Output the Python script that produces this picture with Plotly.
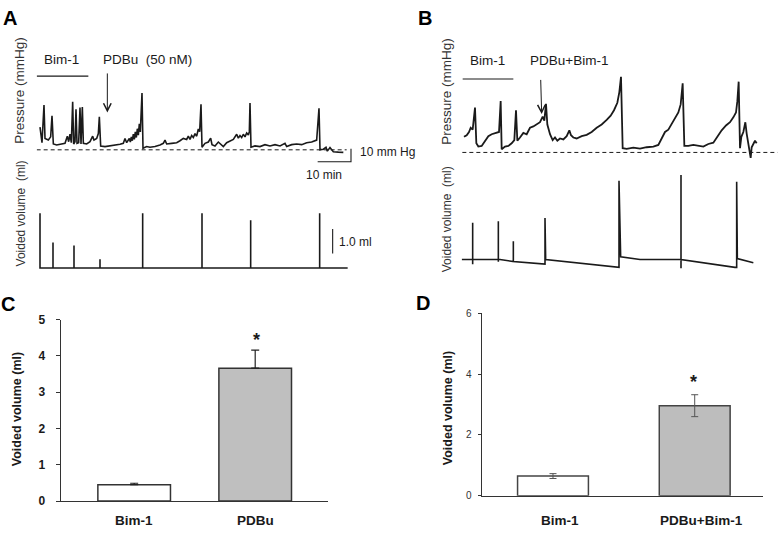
import plotly.graph_objects as go

W, H = 778, 535
FONT = "Liberation Sans, Arial, Helvetica, sans-serif"
INK = "#1a1a1a"

# ---------------- DATA ----------------
# Panel A: bladder pressure trace (time in min, pressure in mmHg above baseline)
pA_t = [0, 0.3, 0.6, 1.2, 1.5, 2.5, 3.2, 3.6, 4.0, 5.0, 6.5, 7.5, 8.2, 8.6, 9.0, 9.4,
        9.8, 10.1, 10.5, 10.8, 11.1, 11.6, 12.0, 12.3, 12.7, 13.0, 14.0, 15.0, 15.8, 16.2,
        17.0, 17.5, 17.8, 18.2, 19.5, 21.0, 22.5, 24.0, 25.0, 25.5, 26.0, 26.5, 26.8, 27.1,
        27.4, 27.7, 28.0, 28.3, 28.6, 28.9, 29.2, 29.5, 29.8, 30.1, 30.3, 30.6, 30.9, 32.0,
        33.0, 34.5, 36.0, 37.0, 37.5, 38.0, 39.5, 41.0, 42.0, 43.0, 44.0, 44.5, 45.0, 45.5,
        46.0, 46.5, 47.0, 47.5, 47.9, 48.3, 48.6, 49.5, 50.5, 51.2, 51.6, 52.5, 53.5, 54.2,
        55.0, 56.0, 57.0, 58.0, 59.0, 59.5, 60.0, 60.5, 61.0, 61.5, 62.0, 62.5, 62.8, 63.0,
        63.3, 64.5, 66.0, 67.5, 69.0, 70.5, 72.0, 73.5, 74.0, 75.5, 77.0, 78.5, 80.0, 81.5,
        83.0, 83.7, 84.0, 85.0, 85.8, 86.2, 87.0, 88.0, 89.5, 91.0]
pA_p = [17.5, 10, 5.5, 34.5, 8.75, 7.5, 10, 26.25, 4.5, 3.75, 4.25, 5, 10.5, 6.25, 12, 5.5,
        37, 4.5, 6.25, 31.25, 5, 5.5, 32.5, 4.5, 33, 5, 4.5, 6.25, 10.5, 7.5,
        8.75, 12.5, 25.5, 3, 2.5, 3, 3.75, 4.25, 5, 8.75, 5.5, 7.5, 8.75, 6,
        10, 7, 12, 8, 13.75, 9.5, 16.25, 11.25, 20, 13.75, 23.75, 43.75, 1.25, 2.5,
        2, 2.5, 3.75, 5, 7.5, 4.5, 5, 5.5, 7, 8.75, 8, 10.5, 8, 11,
        9.5, 12.5, 10.5, 16, 14, 35, 2, 5, 6, 9, 4, 3, 6, 4,
        2.5, 5.5, 7, 8, 12, 9, 11, 9.5, 12, 10, 13, 11.5, 14, 36,
        2, 3, 2.5, 4, 3, 4, 3, 5, 2.5, 4, 4.5, 4, 5.5, 6,
        7.5, 32, 0, 0.5, 2, -1, 1.8, -1.5, -1.8, -2]

# Panel A: voided volume events (time in min, volume in ml)
vA_t = [0, 3.9, 10.2, 18.0, 30.8, 48.6, 63.2, 83.9]
vA_v = [2.25, 1.05, 0.92, 0.36, 2.25, 2.25, 1.96, 2.25]
vA_end = 92.3

# Panel B: bladder pressure trace (time in min, pressure in mmHg)
pB_t = [0.2, 1.0, 1.7, 2.2, 2.8, 3.5, 3.9, 4.5, 5.5, 6.5, 7.5, 8.5, 9.5, 10.7, 11.2, 11.5,
        12.5, 13.5, 14.5, 15.3, 15.8, 16.2, 17.0, 18.0, 19.0, 20.0, 21.0, 22.0, 23.0, 23.8,
        24.3, 24.8, 25.2, 26.0, 26.8, 27.5, 28.2, 29.0, 30.0, 31.0, 31.8, 32.3, 33.0, 34.0,
        35.5, 37.0, 38.5, 40.0, 41.5, 43.0, 44.2, 45.2, 46.2, 46.8, 47.3, 47.8, 49.0, 51.0,
        53.0, 55.0, 57.0, 58.5, 59.5, 60.5, 61.5, 62.5, 63.5, 64.5, 65.2, 65.8, 66.3, 67.5,
        69.0, 70.5, 72.0, 73.5, 75.0, 76.2, 77.5, 78.8, 80.0, 81.0, 81.8, 82.2, 82.6, 83.0,
        83.4, 84.0, 84.6, 85.0, 85.5, 85.9, 86.2, 86.5, 87.0, 87.5, 88.0]
pB_p = [12, 13.25, 15.75, 19, 17.5, 34.5, 7, 4.5, 5, 9, 12.5, 14, 15, 15.75, 39.5, 2.5,
        4.5, 5, 7, 9.5, 32.5, 9, 11.5, 15, 14, 19, 20, 21.5, 23.25, 27.5,
        24.5, 37.5, 21.5, 14, 9.5, 11.5, 9, 10.75, 10, 12.5, 17, 13.25, 11.5, 10.75,
        12.5, 13.5, 15.75, 19, 21.5, 25, 28.25, 32.5, 38.25, 46.5, 58.25, 3.25, 2.75, 3.75,
        3, 4, 4.5, 5.75, 10.75, 15.75, 17.5, 22, 25.75, 30.75, 37, 53.25, 5, 5,
        5.75, 5, 4.5, 6.5, 7.5, 12, 17, 20.75, 23.25, 27, 30.75, 39.5, 54.5, 3.25,
        12, 15.75, 23.25, 14.5, 7, 0.75, -4.25, 4, 7, 9, 7]

# Panel B: voided volume record (time in min, ml), drifting baseline with void spikes
vB_t = [-0.5, 2.8, 2.8, 2.8, 2.8, 10.5, 10.5, 10.5, 10.5, 11.0, 15.0, 15.0, 15.0,
        24.5, 24.5, 24.7, 46.7, 46.7, 47.2, 53.0, 65.3, 65.3, 65.3, 65.3, 81.5, 82.0,
        82.0, 82.2, 87.0]
vB_v = [0, 0, -0.19, 1.51, 0, 0, -0.09, 1.57, 0, 0, -0.08, 0.75, -0.08,
        -0.19, 1.71, 0, -0.32, 3.24, 0.11, 0, 0, -0.36, 3.47, 0, -0.32, -0.32,
        3.2, 0.04, -0.13]

# Panel C and D: mean voided volume (ml) +/- SEM
c_cats = ["Bim-1", "PDBu"]
c_mean = [0.45, 3.66]
c_err = [0.04, 0.50]
d_cats = ["Bim-1", "PDBu+Bim-1"]
d_mean = [0.65, 2.96]
d_err = [0.08, 0.36]


# ---------------- helpers ----------------
def xp(px):
    return px / W


def yp(py):
    return 1 - py / H


fig = go.Figure()

# voided volume paths from events
vA_x, vA_y = [], []
for t, v in zip(vA_t, vA_v):
    vA_x += [t, t, t]
    vA_y += [0, v, 0]
vA_x.append(vA_end)
vA_y.append(0)

thin_k = dict(color=INK, width=1.1)

# Panel A
fig.add_trace(go.Scatter(x=[-1, 92], y=[0, 0], mode="lines", xaxis="x", yaxis="y",
                         line=dict(color=INK, width=1, dash="4px,3px")))
fig.add_trace(go.Scatter(x=pA_t, y=pA_p, mode="lines", xaxis="x", yaxis="y",
                         line=dict(color=INK, width=1.6)))
fig.add_trace(go.Scatter(x=[-1, 14.5], y=[56.75, 56.75], mode="lines", xaxis="x", yaxis="y",
                         line=thin_k))
fig.add_trace(go.Scatter(x=[83.3, 93.3, 93.3], y=[-9.2, -9.2, 0.8], mode="lines",
                         xaxis="x", yaxis="y", line=thin_k))
fig.add_trace(go.Scatter(x=vA_x, y=vA_y, mode="lines", xaxis="x2", yaxis="y2",
                         line=dict(color=INK, width=1.6)))
fig.add_trace(go.Scatter(x=[87.8, 87.8], y=[0.6, 1.6], mode="lines", xaxis="x2", yaxis="y2",
                         line=thin_k))

# Panel B
fig.add_trace(go.Scatter(x=[-0.3, 94.3], y=[0, 0], mode="lines", xaxis="x3", yaxis="y3",
                         line=dict(color=INK, width=1, dash="4px,3px")))
fig.add_trace(go.Scatter(x=pB_t, y=pB_p, mode="lines", xaxis="x3", yaxis="y3",
                         line=dict(color=INK, width=1.8)))
fig.add_trace(go.Scatter(x=[-0.2, 15], y=[56.5, 56.5], mode="lines", xaxis="x3", yaxis="y3",
                         line=thin_k))
fig.add_trace(go.Scatter(x=vB_t, y=vB_v, mode="lines", xaxis="x4", yaxis="y4",
                         line=dict(color=INK, width=1.6)))

# Panel C bars
fig.add_trace(go.Bar(x=[0, 1], y=c_mean, width=0.6, xaxis="x5", yaxis="y5",
                     marker=dict(color=["#ffffff", "#bfbfbf"], line=dict(color="#333333", width=1.5)),
                     error_y=dict(type="data", array=c_err, arrayminus=[0, 0], symmetric=False,
                                  color="#222222", thickness=1.2, width=4)))
# Panel D bars
fig.add_trace(go.Bar(x=[0, 1], y=d_mean, width=0.5, xaxis="x6", yaxis="y6",
                     marker=dict(color=["#ffffff", "#bdbdbd"], line=dict(color="#444444", width=1.5)),
                     error_y=dict(type="data", array=d_err, symmetric=True,
                                  color="#555555", thickness=1, width=3.5)))

hidden = dict(showgrid=False, zeroline=False, showticklabels=False, showline=False,
              ticks="", fixedrange=True)

ann = []


def txt(text, px, py, size=13, angle=0, xanchor="center", bold=False, color=INK):
    if bold:
        text = "<b>" + text + "</b>"
    ann.append(dict(text=text, x=xp(px), y=yp(py), xref="paper", yref="paper",
                    showarrow=False, textangle=angle, xanchor=xanchor, yanchor="middle",
                    font=dict(family=FONT, size=size, color=color)))


# panel letters
txt("A", 9.5, 11.5, size=20, bold=True, color="#000")
txt("B", 425, 11.5, size=20, bold=True, color="#000")
txt("C", 8, 305, size=20, bold=True, color="#000")
txt("D", 423, 304, size=20, bold=True, color="#000")

# A texts
txt("Bim-1", 61.7, 54, size=13.5)
txt("PDBu&nbsp; (50 nM)", 147.2, 54, size=13.5)
txt("Pressure (mmHg)", 20, 86, size=13.5, angle=-90, color="#333")
txt("Voided volume&nbsp; (ml)", 21, 212, size=12, angle=-90, color="#333")
txt("10 mm Hg", 358, 149, size=12, xanchor="left")
txt("10 min", 324, 172.7, size=12)
txt("1.0 ml", 336.7, 241.7, size=12, xanchor="left")

# B texts
txt("Bim-1", 487.3, 55, size=13.5)
txt("PDBu+Bim-1", 569, 55, size=13.5)
txt("Pressure (mmHg)", 447, 86, size=13.5, angle=-90, color="#333")
txt("Voided volume&nbsp; (ml)", 447, 218, size=12, angle=-90, color="#333")

# C / D texts
txt("Voided volume (ml)", 17, 413, size=12.5, angle=-90, bold=True)
txt("Voided volume (ml)", 448, 412, size=12.5, angle=-90, bold=True)
txt("*", 256.7, 342, size=18, bold=True)
txt("*", 693, 385, size=18, bold=True)

for i, c in enumerate(c_cats):
    ann.append(dict(text="<b>" + c + "</b>", x=i, xref="x5", y=yp(527), yref="paper",
                    showarrow=False, yanchor="middle",
                    font=dict(family=FONT, size=13.5, color=INK)))
for i, c in enumerate(d_cats):
    ann.append(dict(text="<b>" + c + "</b>", x=i, xref="x6", y=yp(527), yref="paper",
                    showarrow=False, yanchor="middle", xshift=7,
                    font=dict(family=FONT, size=13.5, color=INK)))

# arrows
ann.append(dict(x=20.2, y=28.75, xref="x", yref="y", ax=20.2, ay=60, axref="x", ayref="y",
                showarrow=True, arrowhead=5, arrowsize=1.5, arrowwidth=1, arrowcolor=INK, text=""))
ann.append(dict(x=23.5, y=29.5, xref="x3", yref="y3", ax=23.2, ay=57, axref="x3", ayref="y3",
                showarrow=True, arrowhead=5, arrowsize=1.5, arrowwidth=1, arrowcolor=INK, text=""))

fig.update_layout(
    width=W, height=H, margin=dict(l=0, r=0, t=0, b=0),
    paper_bgcolor="white", plot_bgcolor="rgba(0,0,0,0)", showlegend=False,
    font=dict(family=FONT, color=INK),
    xaxis=dict(domain=[xp(36.67), xp(373.33)], range=[-1, 100], anchor="y", **hidden),
    yaxis=dict(domain=[yp(161.33), yp(37.33)], range=[-11, 82], anchor="x", **hidden),
    xaxis2=dict(domain=[xp(36.67), xp(373.33)], range=[-1, 100], anchor="y2", **hidden),
    yaxis2=dict(domain=[yp(275.5), yp(193)], range=[-0.3, 3.0], anchor="x2", **hidden),
    xaxis3=dict(domain=[xp(461.67), xp(777.67)], range=[-0.5, 94.3], anchor="y3", **hidden),
    yaxis3=dict(domain=[yp(160), yp(40)], range=[-8, 82], anchor="x3", **hidden),
    xaxis4=dict(domain=[xp(461.67), xp(777.67)], range=[-0.5, 94.3], anchor="y4", **hidden),
    yaxis4=dict(domain=[yp(274.33), yp(164.33)], range=[-0.6, 3.8], anchor="x4", **hidden),
    xaxis5=dict(domain=[xp(60.7), xp(328.3)], range=[-0.607, 1.604], anchor="y5",
                showgrid=False, zeroline=False, showticklabels=False, ticks="",
                showline=True, linecolor="#333", linewidth=1.2),
    yaxis5=dict(domain=[yp(507.3), yp(321)], range=[0, 5], anchor="x5",
                tickvals=[0, 1, 2, 3, 4, 5], ticks="outside", ticklen=4, tickcolor="#333",
                tickfont=dict(family=FONT, size=12, color=INK, weight="bold"),
                ticklabelstandoff=8,
                showgrid=False, zeroline=False, showline=True, linecolor="#333", linewidth=1.2),
    xaxis6=dict(domain=[xp(481.7), xp(763.3)], range=[-0.503, 1.484], anchor="y6",
                showgrid=False, zeroline=False, showticklabels=False, ticks="",
                showline=True, linecolor="#333", linewidth=1.2),
    yaxis6=dict(domain=[yp(502), yp(314.3)], range=[0, 6], anchor="x6",
                tickvals=[0, 2, 4, 6], ticks="outside", ticklen=3, tickcolor="#333",
                tickfont=dict(family=FONT, size=10, color="#333"),
                ticklabelstandoff=4,
                showgrid=False, zeroline=False, showline=True, linecolor="#333", linewidth=1.2),
    annotations=ann,
)

fig.write_html("out.html", config={"displayModeBar": False},
               post_script="document.body.style.margin='0';document.body.style.overflow='hidden';")
